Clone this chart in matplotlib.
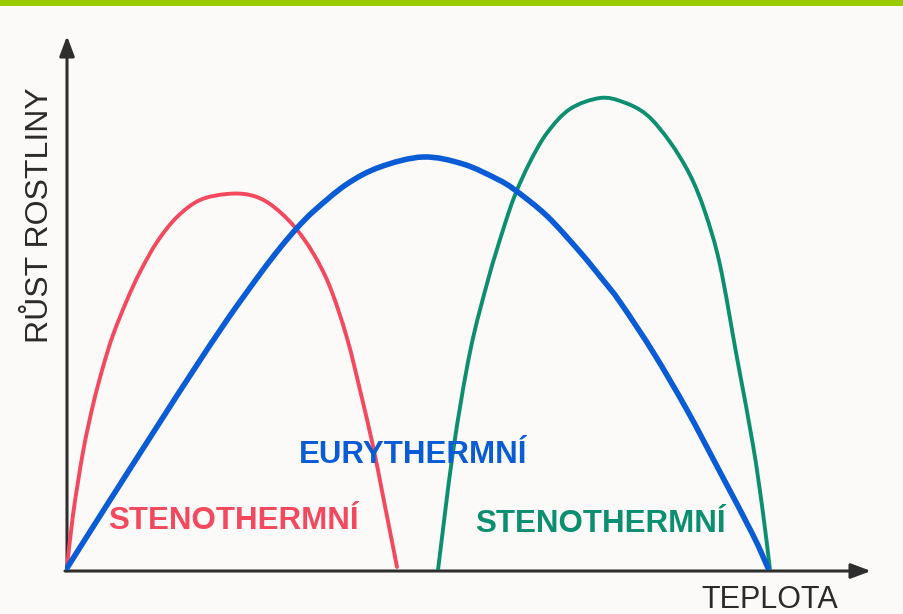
import matplotlib
matplotlib.use("Agg")
import matplotlib.pyplot as plt
import numpy as np
from matplotlib.patches import Rectangle, PathPatch
from matplotlib.path import Path

# Data (temperature units, growth units)
red_x = [2, 8, 18, 28, 38, 48, 62, 75, 92, 112, 135, 162, 185, 205, 228, 248, 265, 282, 295, 308, 318, 332]
red_y = [2, 55, 118, 165, 203, 235, 270, 298, 328, 353, 370, 376, 375, 366, 345, 317, 283, 232, 180, 124, 74, 3]

blue_x = [2, 40, 95, 128, 162, 195, 215, 232, 250, 282, 315, 358, 398, 432, 450, 482, 515, 538, 555, 588, 622, 655, 688, 703]
blue_y = [2, 62, 148, 199, 250, 296, 322, 342, 360, 386, 403, 413, 406, 391, 380, 354, 318, 290, 268, 218, 160, 98, 35, 2]

teal_x = [373, 388, 405, 423, 438, 450, 465, 482, 505, 535, 558, 582, 605, 625, 640, 655, 672, 688, 698, 705]
teal_y = [0, 118, 218, 290, 340, 375, 408, 437, 461, 472, 468, 455, 428, 395, 358, 305, 212, 125, 57, 0]

labels = ["STENOTHERMNÍ", "EURYTHERMNÍ", "STENOTHERMNÍ"]
label_x = [168, 348, 535]
label_y = [49, 115, 46]
colors = ["#f2495f", "#0a5cd6", "#0b8f70"]

x_label = "TEPLOTA"
y_label = "RŮST ROSTLINY"


def smooth_path(xs, ys):
    """Catmull-Rom through the read points, drawn as cubic Bezier segments."""
    p = np.column_stack([xs, ys]).astype(float)
    verts = [p[0]]
    codes = [Path.MOVETO]
    n = len(p)
    for i in range(n - 1):
        p0 = p[i - 1] if i > 0 else p[i]
        p1, p2 = p[i], p[i + 1]
        p3 = p[i + 2] if i + 2 < n else p[i + 1]
        c1 = p1 + (p2 - p0) / 6.0
        c2 = p2 - (p3 - p1) / 6.0
        verts += [c1, c2, p2]
        codes += [Path.CURVE4] * 3
    return Path(verts, codes)


W, H = 904, 614
fig = plt.figure(figsize=(W / 100, H / 100), dpi=100)
fig.patch.set_facecolor("#fbfaf8")

# top green bar
fig.patches.append(Rectangle((0, 1 - 6 / H), 1, 6 / H, transform=fig.transFigure,
                             facecolor="#99cc00", edgecolor="none", zorder=5))

ox, oy = 65, 570
x_end, y_end = 880, 30
ax = fig.add_axes([ox / W, (H - oy) / H, (x_end - ox) / W, (oy - y_end) / H])
ax.set_xlim(0, x_end - ox)
ax.set_ylim(0, oy - y_end)
ax.set_facecolor("none")
for s in ax.spines.values():
    s.set_visible(False)
ax.set_xticks([])
ax.set_yticks([])

axis_col = "#2e2e2e"
ax.annotate("", xy=(806, -1), xytext=(0, -1),
            arrowprops=dict(arrowstyle="-|>,head_length=1.2,head_width=0.45",
                            color=axis_col, lw=2.2, shrinkA=0, shrinkB=0),
            annotation_clip=False)
ax.annotate("", xy=(2, 534), xytext=(2, -1),
            arrowprops=dict(arrowstyle="-|>,head_length=1.2,head_width=0.45",
                            color=axis_col, lw=2.2, shrinkA=0, shrinkB=0),
            annotation_clip=False)

for xs, ys, c, lw, z in [(red_x, red_y, colors[0], 2.8, 3),
                         (blue_x, blue_y, colors[1], 4.0, 4),
                         (teal_x, teal_y, colors[2], 2.8, 3)]:
    ax.add_patch(PathPatch(smooth_path(xs, ys), facecolor="none", edgecolor=c,
                           lw=lw, capstyle="round", joinstyle="round", zorder=z))

fam = ["Liberation Sans Narrow", "Liberation Sans", "DejaVu Sans"]
for t, x, y, c in zip(labels, label_x, label_y, colors):
    ax.text(x, y, t, color=c, fontsize=22.5, fontweight="bold", family=fam,
            ha="center", va="center", zorder=6)

fig.text(770 / W, 1 - 600 / H, x_label, fontsize=22, color="#2a2a2a",
         family=["Liberation Sans", "DejaVu Sans"], ha="center", va="center")
fig.text(40 / W, 1 - 215 / H, y_label, fontsize=23, color="#2a2a2a", rotation=90,
         family=["Liberation Sans", "DejaVu Sans"], ha="center", va="center")

fig.savefig("out.png", dpi=100, facecolor=fig.get_facecolor())
